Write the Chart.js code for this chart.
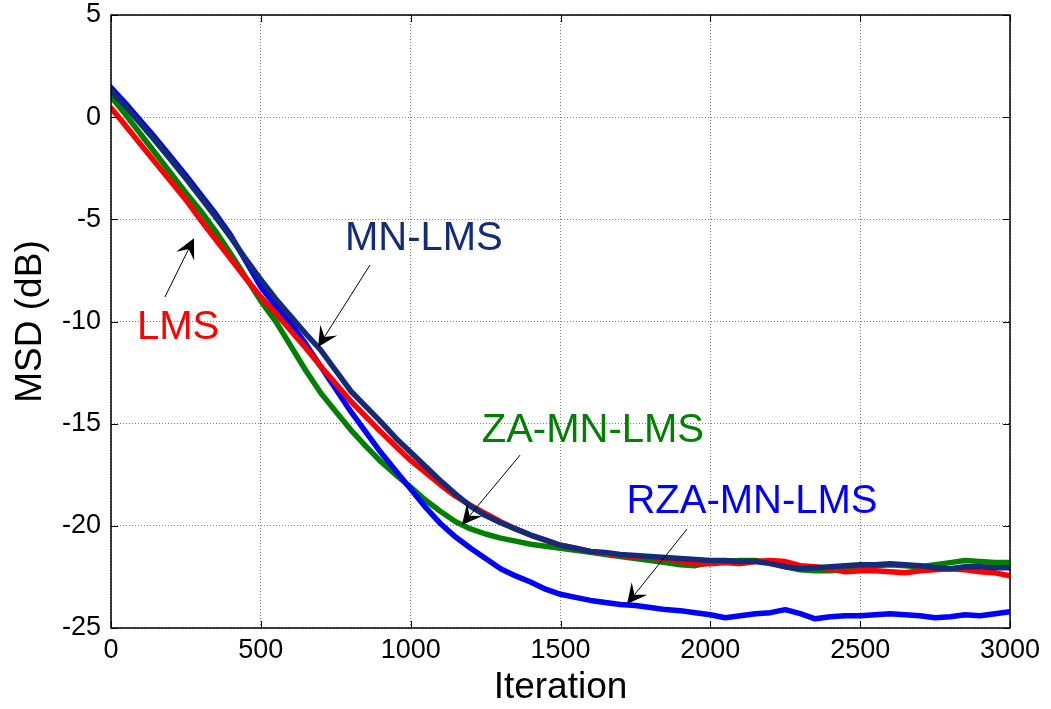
<!DOCTYPE html>
<html>
<head>
<meta charset="utf-8">
<script src="https://cdn.jsdelivr.net/npm/chart.js@4.4.1/dist/chart.umd.min.js"></script>
<style>
  html, body { margin: 0; padding: 0; background: #fff; }
  #wrap { width: 1051px; height: 709px; position: relative; }
</style>
</head>
<body>
<div id="wrap"><canvas id="c"></canvas></div>
<script>
const iterations = [
  0, 50, 100, 150, 200, 250, 300, 350, 400, 450, 500, 550, 600, 650, 700, 750,
  800, 850, 900, 950, 1000, 1050, 1100, 1150, 1200, 1250, 1300, 1350, 1400, 1450,
  1500, 1550, 1600, 1650, 1700, 1750, 1800, 1850, 1900, 1950, 2000, 2050, 2100,
  2150, 2200, 2250, 2300, 2350, 2400, 2450, 2500, 2550, 2600, 2650, 2700, 2750,
  2800, 2850, 2900, 2950, 3000
];

const lms = [
  0.45, -0.45, -1.35, -2.25, -3.15, -4.05, -5.05, -6.0, -6.95, -7.9, -8.8, -9.6, -10.45,
  -11.3, -12.2, -13.05, -13.9, -14.65, -15.4, -16.1, -16.8, -17.4, -18.0, -18.55,
  -19.0, -19.4, -19.8, -20.15, -20.45, -20.7, -20.95, -21.1, -21.25, -21.35, -21.45,
  -21.5, -21.55, -21.6, -21.75, -21.85, -21.85, -21.8, -21.85, -21.75, -21.7, -21.75,
  -21.95, -22.0, -22.1, -22.25, -22.2, -22.2, -22.25, -22.3, -22.2, -22.15, -22.1,
  -22.15, -22.25, -22.3, -22.45
];

const mnLms = [
  1.3, 0.5, -0.35, -1.2, -2.1, -3.0, -3.95, -4.9, -5.9, -6.95, -7.95, -8.9, -9.75,
  -10.6, -11.4, -12.4, -13.4, -14.15, -14.9, -15.7, -16.4, -17.1, -17.8, -18.45,
  -19.05, -19.5, -19.85, -20.15, -20.45, -20.7, -20.95, -21.1, -21.25, -21.3, -21.4,
  -21.45, -21.5, -21.55, -21.6, -21.65, -21.7, -21.7, -21.75, -21.75, -21.85, -22.0,
  -22.1, -22.05, -22.0, -21.95, -21.9, -21.9, -21.85, -21.9, -21.95, -22.05, -22.1,
  -22.0, -22.0, -22.05, -22.05
];

const zaMnLms = [
  1.0, 0.1, -0.85, -1.8, -2.75, -3.7, -4.6, -5.6, -6.7, -7.85, -9.0, -10.0, -11.2,
  -12.4, -13.5, -14.4, -15.3, -16.1, -16.85, -17.5, -18.1, -18.75, -19.3, -19.8,
  -20.15, -20.4, -20.6, -20.75, -20.9, -21.0, -21.1, -21.2, -21.3, -21.4, -21.5,
  -21.6, -21.7, -21.8, -21.9, -21.95, -21.8, -21.75, -21.7, -21.7, -21.8, -22.0,
  -22.15, -22.2, -22.2, -22.15, -22.05, -21.95, -21.9, -21.95, -22.0, -21.9, -21.8,
  -21.7, -21.75, -21.8, -21.8
];

const rzaMnLms = [
  1.45, 0.65, -0.2, -1.05, -1.95, -2.85, -3.8, -4.75, -5.8, -7.05, -8.3, -9.25, -10.1,
  -11.1, -12.2, -13.3, -14.4, -15.4, -16.4, -17.3, -18.2, -19.1, -19.9, -20.55,
  -21.1, -21.6, -22.1, -22.45, -22.75, -23.1, -23.35, -23.5, -23.65, -23.75, -23.85,
  -23.9, -24.0, -24.1, -24.15, -24.25, -24.35, -24.5, -24.4, -24.3, -24.25, -24.1,
  -24.3, -24.55, -24.45, -24.4, -24.4, -24.35, -24.3, -24.35, -24.4, -24.5, -24.45,
  -24.35, -24.4, -24.3, -24.2
];

const xTicks = [0, 500, 1000, 1500, 2000, 2500, 3000];
const yTicks = [5, 0, -5, -10, -15, -20, -25];

// label text, label centre, arrow tail, arrow tip (data units)
const notes = [
  { text: 'LMS',        color: '#ff0000', at: [224, -10.3],  from: [180, -8.8],   to: [277, -5.92] },
  { text: 'MN-LMS',     color: '#142b7a', at: [1044, -5.95], from: [864, -7.24],  to: [691, -11.25] },
  { text: 'ZA-MN-LMS',  color: '#008000', at: [1608, -15.35], from: [1365, -16.54], to: [1171, -19.96] },
  { text: 'RZA-MN-LMS', color: '#0000ff', at: [2139, -18.85], from: [1922, -20.16], to: [1722, -23.83] },
];

const FONT = "'Liberation Sans', Arial, sans-serif";

function series(vals) {
  return vals.map((v, i) => ({ x: iterations[i], y: v }));
}

function line(label, vals, color, order) {
  return {
    label, data: series(vals), borderColor: color, backgroundColor: color,
    borderWidth: 5.5, pointRadius: 0, tension: 0, order,
    borderJoinStyle: 'round', borderCapStyle: 'round',
  };
}

const framePlugin = {
  id: 'frame',
  afterDraw(chart) {
    const { ctx, chartArea: a, scales } = chart;
    const xs = scales.x, ys = scales.y;
    ctx.save();
    ctx.strokeStyle = '#000';
    ctx.lineWidth = 1.5;
    ctx.strokeRect(a.left, a.top, a.right - a.left, a.bottom - a.top);
    ctx.lineWidth = 1;
    ctx.beginPath();
    xTicks.forEach(t => {
      const px = Math.round(xs.getPixelForValue(t)) + 0.5;
      ctx.moveTo(px, a.bottom); ctx.lineTo(px, a.bottom - 7);
      ctx.moveTo(px, a.top); ctx.lineTo(px, a.top + 7);
    });
    yTicks.forEach(t => {
      const py = Math.round(ys.getPixelForValue(t)) + 0.5;
      ctx.moveTo(a.left, py); ctx.lineTo(a.left + 7, py);
      ctx.moveTo(a.right, py); ctx.lineTo(a.right - 7, py);
    });
    ctx.stroke();

    // arrows and labels
    notes.forEach(n => {
      const x0 = xs.getPixelForValue(n.from[0]), y0 = ys.getPixelForValue(n.from[1]);
      const x1 = xs.getPixelForValue(n.to[0]), y1 = ys.getPixelForValue(n.to[1]);
      const ang = Math.atan2(y1 - y0, x1 - x0);
      const L = 20, W = 10;
      ctx.strokeStyle = '#000';
      ctx.lineWidth = 1;
      ctx.beginPath();
      ctx.moveTo(x0, y0);
      ctx.lineTo(x1 - Math.cos(ang) * L * 0.6, y1 - Math.sin(ang) * L * 0.6);
      ctx.stroke();
      ctx.save();
      ctx.translate(x1, y1);
      ctx.rotate(ang);
      ctx.fillStyle = '#000';
      ctx.beginPath();
      ctx.moveTo(0, 0);
      ctx.lineTo(-L, -W);
      ctx.lineTo(-L * 0.6, 0);
      ctx.lineTo(-L, W);
      ctx.closePath();
      ctx.fill();
      ctx.restore();

      ctx.fillStyle = n.color;
      ctx.font = `40px ${FONT}`;
      ctx.textAlign = 'center';
      ctx.textBaseline = 'middle';
      ctx.fillText(n.text, xs.getPixelForValue(n.at[0]), ys.getPixelForValue(n.at[1]));
    });

    // axis titles
    ctx.fillStyle = '#000';
    ctx.font = `37px ${FONT}`;
    ctx.textAlign = 'center';
    ctx.textBaseline = 'middle';
    ctx.fillText('Iteration', (a.left + a.right) / 2, 688);
    ctx.translate(31, (a.top + a.bottom) / 2);
    ctx.rotate(-Math.PI / 2);
    ctx.fillText('MSD (dB)', 0, 0);
    ctx.restore();
  },
};

new Chart(document.getElementById('c'), {
  type: 'line',
  data: {
    datasets: [
      line('MN-LMS', mnLms, '#142b7a', 0),
      line('LMS', lms, '#ff0000', 1),
      line('RZA-MN-LMS', rzaMnLms, '#0000ff', 2),
      line('ZA-MN-LMS', zaMnLms, '#008000', 3),
    ],
  },
  options: {
    responsive: true,
    maintainAspectRatio: false,
    animation: false,
    layout: { padding: { top: 15, right: 41, left: 0, bottom: 0 } },
    plugins: { legend: { display: false }, tooltip: { enabled: false } },
    scales: {
      x: {
        type: 'linear', min: 0, max: 3000,
        afterFit(s) { s.height = 81; s.paddingLeft = 0; s.paddingRight = 0; },
        afterBuildTicks(s) { s.ticks = xTicks.map(v => ({ value: v })); },
        grid: { color: '#808080', lineWidth: 1, drawTicks: false },
        border: { display: false, dash: [1, 2] },
        ticks: { color: '#000', font: { family: FONT, size: 27 }, padding: 6, maxRotation: 0,
                 callback: v => String(v) },
      },
      y: {
        type: 'linear', min: -25, max: 5,
        afterFit(s) { s.width = 111; s.paddingTop = 0; s.paddingBottom = 0; },
        afterBuildTicks(s) { s.ticks = yTicks.map(v => ({ value: v })); },
        grid: { color: '#808080', lineWidth: 1, drawTicks: false },
        border: { display: false, dash: [1, 2] },
        ticks: { color: '#000', font: { family: FONT, size: 27 }, padding: 10,
                 callback: v => String(v) },
      },
    },
  },
  plugins: [framePlugin],
});
</script>
</body>
</html>
